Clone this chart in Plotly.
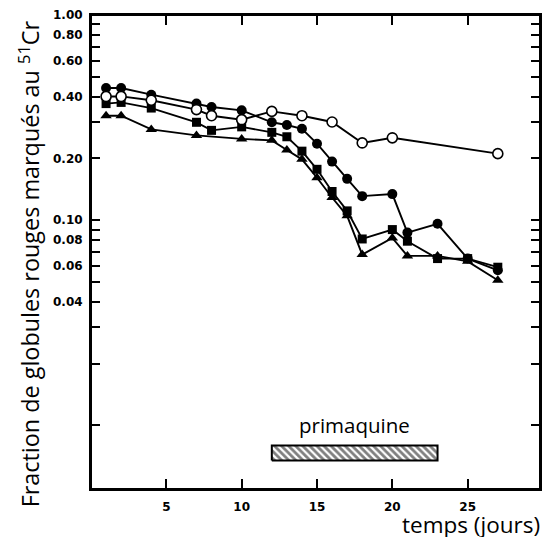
"""
Fraction de globules rouges marqués au 51Cr en fonction du temps (primaquine)
"""
import plotly.graph_objects as go

# jours de mesure
days_open = [1, 2, 4, 7, 8, 10, 12, 14, 16, 18, 20, 27]
days_circle = [1, 2, 4, 7, 8, 10, 12, 13, 14, 15, 16, 17, 18, 20, 21, 23, 25, 27]
days_square = [1, 2, 4, 7, 8, 10, 12, 13, 14, 15, 16, 17, 18, 20, 21, 23, 25, 27]
days_triangle = [1, 2, 4, 7, 10, 12, 13, 14, 15, 16, 17, 18, 20, 21, 23, 25, 27]

# fraction marquée
frac_open = [0.401, 0.401, 0.384, 0.346, 0.323, 0.309, 0.339, 0.323, 0.301, 0.238, 0.252, 0.211]
frac_circle = [0.441, 0.441, 0.409, 0.370, 0.356, 0.343, 0.300, 0.291, 0.279, 0.236, 0.193,
               0.159, 0.131, 0.134, 0.087, 0.096, 0.065, 0.057]
frac_square = [0.370, 0.375, 0.352, 0.300, 0.274, 0.285, 0.268, 0.255, 0.217, 0.177, 0.138,
               0.111, 0.081, 0.090, 0.079, 0.065, 0.065, 0.059]
frac_triangle = [0.323, 0.323, 0.277, 0.259, 0.249, 0.245, 0.220, 0.198, 0.161, 0.129, 0.105,
                 0.068, 0.082, 0.067, 0.067, 0.063, 0.051]

# traitement
primaquine_start = 12
primaquine_end = 23

y_tickvals = [0.01, 0.02, 0.03, 0.04, 0.05, 0.06, 0.07, 0.08, 0.09,
              0.1, 0.2, 0.3, 0.4, 0.5, 0.6, 0.7, 0.8, 0.9, 1.0]
y_ticktext = ["", "", "", "0.04", "", "0.06", "", "0.08", "",
              "0.10", "0.20", "", "0.40", "", "0.60", "", "0.80", "", "1.00"]
x_tickvals = [5, 10, 15, 20, 25]

fig = go.Figure()

line = dict(color="black", width=1.9)
series = [
    (days_triangle, frac_triangle, dict(symbol="triangle-up", size=10, color="black")),
    (days_square, frac_square, dict(symbol="square", size=9, color="black")),
    (days_circle, frac_circle, dict(symbol="circle", size=10, color="black")),
    (days_open, frac_open, dict(symbol="circle", size=10, color="white",
                                line=dict(color="black", width=1.6))),
]
for x, y, marker in series:
    fig.add_trace(go.Scatter(x=x, y=y, mode="lines+markers", line=line,
                             marker=marker, showlegend=False))

# barre hachurée primaquine
bar_lo, bar_hi = 0.00674, 0.00797
fig.add_trace(go.Scatter(
    x=[primaquine_start, primaquine_end, primaquine_end, primaquine_start, primaquine_start],
    y=[bar_lo, bar_lo, bar_hi, bar_hi, bar_lo],
    mode="lines", fill="toself", fillcolor="white",
    fillpattern=dict(shape="\\", size=5, solidity=0.55, fgcolor="black", bgcolor="white"),
    line=dict(color="black", width=2), showlegend=False, hoverinfo="skip",
))

fig.add_annotation(x=(primaquine_start + primaquine_end) / 2, y=-2.0, xref="x", yref="y",
                   text="primaquine", showarrow=False,
                   font=dict(family="Open Sans", size=20.5, color="black"))

fig.add_annotation(x=1.004, y=-0.074, xref="paper", yref="paper", xanchor="right",
                   yanchor="middle", text="temps (jours)", showarrow=False,
                   font=dict(family="Open Sans", size=22.5, color="black"))

fig.add_annotation(x=-0.137, y=0.475, xref="paper", yref="paper", textangle=-90,
                   xanchor="center", yanchor="middle",
                   text="Fraction de globules rouges marqués au <sup>51</sup>Cr",
                   showarrow=False, font=dict(family="Open Sans", size=23.4, color="black"))

# cadre complet
fig.add_shape(type="rect", xref="paper", yref="paper", x0=0, x1=1, y0=0, y1=1,
              line=dict(color="black", width=2), layer="above")

fig.update_xaxes(range=[0, 29.8], tickvals=x_tickvals, ticks="inside", ticklen=10,
                 tickwidth=2, tickcolor="black", mirror="ticks", showline=True,
                 linecolor="black", linewidth=2, showgrid=False, zeroline=False,
                 tickfont=dict(family="DejaVu Sans", size=12, color="black", weight="bold"),
                 ticklabelstandoff=6)
fig.update_yaxes(type="log", range=[-2.31, 0], tickvals=y_tickvals, ticktext=y_ticktext,
                 ticks="inside", ticklen=9, tickwidth=2, tickcolor="black", mirror="ticks",
                 showline=True, linecolor="black", linewidth=2, showgrid=False,
                 zeroline=False,
                 tickfont=dict(family="DejaVu Sans", size=12, color="black", weight="bold"),
                 ticklabelstandoff=4)

fig.update_layout(width=545, height=537, autosize=False,
                  margin=dict(l=91, r=3, t=15, b=48),
                  plot_bgcolor="white", paper_bgcolor="white")

# pas de marge de page autour du graphique
fig.write_html("out.html", config={"displayModeBar": False},
               post_script="document.body.style.margin='0';document.body.style.overflow='hidden';")
